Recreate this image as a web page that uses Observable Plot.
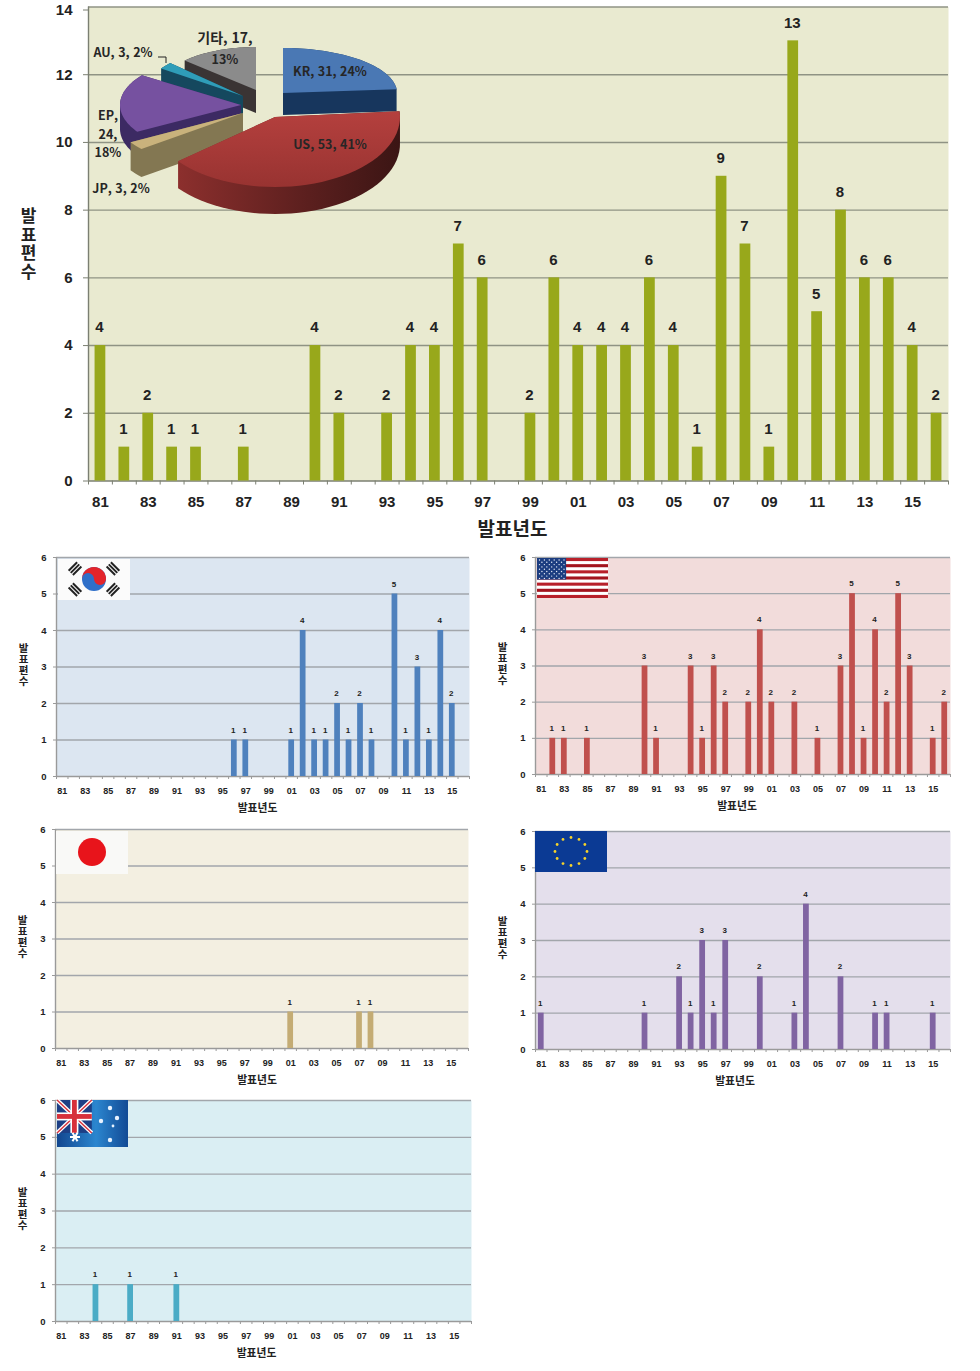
<!DOCTYPE html>
<html lang="ko">
<head>
<meta charset="utf-8">
<script src="https://cdn.jsdelivr.net/npm/d3@7"></script>
<script src="https://cdn.jsdelivr.net/npm/@observablehq/plot@0.6"></script>
<style>
html,body{margin:0;padding:0;background:#fff;overflow:hidden}
#page{position:relative;width:980px;height:1371px;overflow:hidden}
#page svg{position:absolute;max-width:none}
</style>
</head>
<body>
<div id="page"></div>
<script>
// ---- data ----
const years = d3.range(1981, 2017);
const tickYears = d3.range(1981, 2016, 2);
const totalValues = [4,1,2,1,1,0,1,0,0,4,2,0,2,4,4,7,6,0,2,6,4,4,4,6,4,1,9,7,1,13,5,8,6,6,4,2];
const krYears = [1996,1997,2001,2002,2003,2004,2005,2006,2007,2008,2010,2011,2012,2013,2014,2015];
const krValues = [1,1,1,4,1,1,2,1,2,1,5,1,3,1,4,2];
const usYears = [1982,1983,1985,1990,1991,1994,1995,1996,1997,1999,2000,2001,2003,2005,2007,2008,2009,2010,2011,2012,2013,2015,2016];
const usValues = [1,1,1,3,1,3,1,3,2,2,4,2,2,1,3,5,1,4,2,5,3,1,2];
const jpYears = [2001,2007,2008];
const jpValues = [1,1,1];
const epYears = [1981,1990,1993,1994,1995,1996,1997,2000,2003,2004,2007,2010,2011,2015];
const epValues = [1,1,2,1,3,1,3,2,1,4,2,1,1,1];
const auYears = [1984,1987,1991];
const auValues = [1,1,1];
const pieNames = ["KR","US","JP","EP","AU","기타"];
const pieCounts = [31,53,3,24,3,17];
const pieShares = [24,41,2,18,2,13];
const xTitle = "발표년도";
const yTitle = "발표편수";

// ---- layout & style ----
const FONT = '"Liberation Sans","Noto Sans CJK KR","Noto Sans",sans-serif';
const KFONT = '"Noto Sans CJK KR",sans-serif';
const boundaries = d3.range(1980.5, 2017, 1);
const twoDigit = d => String(d).slice(2);
const page = document.getElementById("page");

function chart(o) {
  const {box, rect, values, yearsOf, fill, bar, yMax, yStep, ty, extras = []} = o;
  const rows = yearsOf.map((y, i) => ({year: y, value: values[i]})).filter(d => d.value > 0);
  const halfBar = o.halfBar;
  const spacing = o.ySpacing;
  const yTicks = d3.range(0, yMax + 1, yStep);
  const yAxis = (ticks, dy) => Plot.axisY(ticks, {tickSize: o.yTick, tickPadding: ty.ypad, stroke: o.axis, label: null, dy,
    fontSize: ty.ysize, fontWeight: "bold", fill: "#222"});
  const svg = Plot.plot({
    width: box.w, height: box.h,
    marginLeft: rect.l - box.x, marginRight: box.x + box.w - rect.r,
    marginTop: rect.t - box.y, marginBottom: box.y + box.h - rect.b,
    style: {background: "transparent", fontFamily: FONT, color: "#222", overflow: "visible"},
    x: {domain: [1980.5, 2016.5], axis: null},
    y: {domain: [0, yMax], axis: null},
    marks: [
      Plot.frame({fill, stroke: "none"}),
      Plot.ruleY(d3.range(yStep, yMax + 1, yStep), {stroke: o.grid, strokeWidth: o.gridW}),
      Plot.axisX(boundaries, {tickSize: o.xTick, stroke: o.axis, tickFormat: () => "", label: null}),
      Plot.axisX(tickYears, {tickSize: 0, tickPadding: ty.pad, tickFormat: twoDigit, label: null,
        fontSize: ty.size, fontWeight: "bold", fill: "#222"}),
      yAxis(yTicks.slice(0, -1), 0),
      yAxis(yTicks.slice(-1), o.topTickDy),
      Plot.ruleY([0], {stroke: o.axis, strokeWidth: o.gridW}),
      Plot.ruleX([1980.5], {stroke: o.axis, strokeWidth: o.gridW}),
      Plot.rectY(rows, {x1: d => d.year - halfBar, x2: d => d.year + halfBar, y: "value", fill: bar}),
      Plot.text(rows, {x: "year", y: "value", text: d => String(d.value), dy: o.labelDy, dx: -1,
        fontSize: o.labelSize, fontWeight: "bold", fill: "#222"}),
      Plot.text([xTitle], {frameAnchor: "bottom", text: d => d, dy: o.xTitleDy, dx: o.xTitleDx,
        fontSize: o.titleSize, fontWeight: "bold", fill: "#222", fontFamily: KFONT}),
      Plot.text([yTitle], {frameAnchor: "left", text: d => d, textAnchor: "middle", dx: o.yTitleDx, dy: o.yTitleDy, lineAnchor: "middle",
        fontSize: o.yTitleSize, fontWeight: "bold", fill: "#222", fontFamily: KFONT,
        render(index, scales, values, dims, ctx, next) {
          const g = next(index, scales, values, dims, ctx);
          d3.select(g).selectAll("text")
            .style("writing-mode", "vertical-rl")
            .style("text-orientation", "upright")
            .style("letter-spacing", spacing + "px");
          return g;
        }}),
      ...extras
    ]
  });
  svg.style.left = box.x + "px";
  svg.style.top = box.y + "px";
  page.appendChild(svg);
}

// ---- inset 3-D pie, its slices sized from pieCounts ----
const sliceGeometry = [
  {c:[283,93],  rx:114, ry:45, d:22, top:"#4a78b4", side:"#17365d"},
  {c:[275,117], rx:125, ry:70, d:27, top:"url(#redTop)", side:"url(#redSide)"},
  {c:[243,113], rx:131, ry:57, d:28, top:"#c9b27c", side:"#837752"},
  {c:[241,105], rx:121, ry:52, d:24, top:"#7651a0", side:"#3c2a63"},
  {c:[243,96],  rx:100, ry:48, d:20, top:"#2f9db8", side:"#15485e"},
  {c:[256,90],  rx:98,  ry:43, d:23, top:"#8b8b8b", side:"#3a3434"}
];
const drawOrder = [5,4,3,2,0,1];
const pieLabels = [
  {i:0, lines:null, x:330, y:72},
  {i:1, lines:null, x:330, y:145},
  {i:2, lines:null, x:121, y:189},
  {i:3, lines:"stack3", x:108, y:116, step:18.5},
  {i:4, lines:null, x:123, y:53},
  {i:5, lines:"stack2", x:225, y:38, step:22}
];

function pieMark() {
  const g = d3.create("svg:g");
  const defs = g.append("defs");
  const lg = (id, stops, x2 = 1, y2 = 0) => {
    const e = defs.append("linearGradient").attr("id", id).attr("x1", 0).attr("y1", 0).attr("x2", x2).attr("y2", y2);
    stops.forEach(([o, c]) => e.append("stop").attr("offset", o).attr("stop-color", c));
  };
  lg("redTop", [[0, "#b5403e"], [1, "#983331"]], 0, 1);
  lg("redSide", [[0, "#8c2f2d"], [0.55, "#5e201f"], [1, "#3b1514"]]);
  const pie = d3.pie().sort(null).value(d => d)(pieCounts);
  const line = d3.line();
  drawOrder.forEach(i => {
    const s = sliceGeometry[i], a = pie[i];
    const pts = [s.c];
    for (let k = 0; k <= 40; k++) {
      const t = a.startAngle + (a.endAngle - a.startAngle) * k / 40;
      pts.push([s.c[0] + s.rx * Math.sin(t), s.c[1] - s.ry * Math.cos(t)]);
    }
    const hull = d3.polygonHull(pts.concat(pts.map(p => [p[0], p[1] + s.d])));
    g.append("path").attr("d", line(hull) + "Z").attr("fill", s.side);
    g.append("path").attr("d", line(pts) + "Z").attr("fill", s.top);
  });
  // AU leader line
  g.append("path").attr("d", d3.line()([[158,57],[166,57],[166,63]])).attr("fill", "none").attr("stroke", "#222").attr("stroke-width", 1);
  const text = (x, y, t, fs = 12.5) => g.append("text").attr("x", x).attr("y", y).attr("dy", "0.35em").attr("text-anchor", "middle")
    .attr("font-size", fs).attr("font-weight", "bold").attr("fill", "#262626").attr("font-family", KFONT).text(t);
  pieLabels.forEach(l => {
    const n = pieNames[l.i], c = pieCounts[l.i], p = pieShares[l.i] + "%";
    if (l.lines === "stack3") { text(l.x, l.y, n + ","); text(l.x, l.y + l.step, c + ","); text(l.x, l.y + 2 * l.step, p); }
    else if (l.lines === "stack2") { text(l.x, l.y, n + ", " + c + ",", 14); text(l.x, l.y + l.step, p); }
    else text(l.x, l.y, n + ", " + c + ", " + p);
  });
  return g.node();
}

// ---- flags (picture decoration in the corner of each panel) ----
function flagMark(draw, x, y, w, h) {
  return (index, scales, values, dims) => {
    const g = d3.create("svg:g").attr("transform", `translate(${dims.marginLeft + x},${dims.marginTop + y})`);
    draw(g, w, h);
    return g.node();
  };
}
const rect = (g, x, y, w, h, fill) => g.append("rect").attr("x", x).attr("y", y).attr("width", w).attr("height", h).attr("fill", fill);
const star = (g, x, y, r, fill) => g.append("circle").attr("cx", x).attr("cy", y).attr("r", r).attr("fill", fill);

function krFlag(g, w, h) {
  rect(g, 0, 0, w, h, "#fbfbfb");
  const cx = w * 0.5, cy = h * 0.49, r = 12;
  g.append("circle").attr("cx", cx).attr("cy", cy).attr("r", r).attr("fill", "#2f6fc9");
  g.append("path").attr("d", `M${cx-r},${cy}A${r},${r} 0 0 1 ${cx+r},${cy}A${r/2},${r/2} 0 0 1 ${cx},${cy}A${r/2},${r/2} 0 0 0 ${cx-r},${cy}Z`).attr("fill", "#e3242b");
  [[-19,-10.5,-1],[19,-10.5,1],[-19,10.5,1],[19,10.5,-1]].forEach(([dx,dy,sg]) => {
    const t = g.append("g").attr("transform", `translate(${cx+dx},${cy+dy}) rotate(${sg*45})`);
    [-3,0,3].forEach(o => rect(t, -6, o-1, 12, 2, "#222"));
  });
}
function usFlag(g, w, h) {
  rect(g, 0, 0, w, h, "#fff");
  for (let i = 0; i < 7; i++) rect(g, 0, i * h * 2 / 13, w, h / 13, i % 2 ? "#a3141e" : "#b8202a");
  rect(g, 0, 0, w * 0.41, h * 7 / 13, "#1c3d80");
  for (let r = 0; r < 9; r++) for (let c = 0; c < (r % 2 ? 5 : 6); c++)
    star(g, 2.5 + c * 4.9 + (r % 2 ? 2.4 : 0), 2 + r * 2.3, 0.7, "#e6ecf7");
}
function jpFlag(g, w, h) {
  rect(g, 0, 0, w, h, "#f9f9f7");
  g.append("circle").attr("cx", w * 0.5).attr("cy", h * 0.49).attr("r", 14).attr("fill", "#e8141b");
}
function euFlag(g, w, h) {
  rect(g, 0, 0, w, h, "#0b3a94");
  d3.range(12).forEach(i => {
    const t = i * Math.PI / 6;
    star(g, w / 2 + 16 * Math.sin(t), h / 2 + 14 * Math.cos(t), 1.4, "#f6d32a");
  });
}
function auFlag(g, w, h) {
  const grad = g.append("linearGradient").attr("id", "auBlue");
  [[0, "#12468f"], [0.55, "#2b86cf"], [1, "#124a95"]].forEach(([o, c]) => grad.append("stop").attr("offset", o).attr("stop-color", c));
  rect(g, 0, 0, w, h, "url(#auBlue)");
  const uw = w * 0.49, uh = h * 0.7;
  rect(g, 0, 0, uw, uh, "#1d3f85");
  [[0,0,uw,uh],[uw,0,0,uh]].forEach(([a,b,c,d]) => {
    g.append("line").attr("x1",a).attr("y1",b).attr("x2",c).attr("y2",d).attr("stroke","#fff").attr("stroke-width",4);
    g.append("line").attr("x1",a).attr("y1",b).attr("x2",c).attr("y2",d).attr("stroke","#d7303a").attr("stroke-width",1.4);
  });
  rect(g, uw/2-4, 0, 8, uh, "#fff"); rect(g, 0, uh/2-4, uw, 8, "#fff");
  rect(g, uw/2-2.4, 0, 4.8, uh, "#d7303a"); rect(g, 0, uh/2-2.4, uw, 4.8, "#d7303a");
  d3.range(3).forEach(i => {
    const t = i * Math.PI / 3;
    g.append("line").attr("x1", 18 - 5 * Math.cos(t)).attr("y1", 37 - 5 * Math.sin(t))
      .attr("x2", 18 + 5 * Math.cos(t)).attr("y2", 37 + 5 * Math.sin(t)).attr("stroke", "#fff").attr("stroke-width", 2);
  });
  [[53,8,2.2],[44,21,2.2],[60,18,2.2],[56,26,1.4],[53,40,2.2]].forEach(([x,y,r]) => star(g,x,y,r,"#e8f2ff"));
}

// ---- panels ----
chart({
  box:{x:0,y:0,w:980,h:545}, rect:{l:88,r:948,t:6.5,b:480.5},
  values: totalValues, yearsOf: years, fill:"#e9ead0", bar:"#98a81b",
  yMax:14, yStep:2, halfBar:0.225, grid:"#8f9384", gridW:1.4, axis:"#7b7f72", xTick:4, yTick:5,
  ty:{pad:15, size:15, ypad:11, ysize:15}, labelDy:-18, labelSize:15, xTitleDy:55, xTitleDx:-6, titleSize:19,
  yTitleDx:-60, yTitleDy:-5, yTitleSize:17, ySpacing:1.5, topTickDy:3,
  extras:[pieMark]
});
const small = {
  values:null, yMax:6, yStep:1, halfBar:0.25, grid:"#a2a6ab", gridW:1.4, axis:"#9a9a9a", xTick:3, yTick:3,
  ty:{pad:11, size:9, ypad:7, ysize:9.5}, labelDy:-10, labelSize:8, xTitleDy:35, titleSize:10.8,
  yTitleDx:-33, yTitleDy:-6, yTitleSize:10.5, ySpacing:0.5, topTickDy:0
};
chart({...small, box:{x:0,y:545,w:490,h:275}, rect:{l:56,r:469,t:557,b:776}, xTitleDx:-5.5,
  values:krValues, yearsOf:krYears, fill:"#dce6f1", bar:"#4f81bd", extras:[flagMark(krFlag,2,2,72,41)]});
chart({...small, box:{x:490,y:545,w:490,h:275}, rect:{l:535,r:950,t:557,b:774}, xTitleDx:-6,
  values:usValues, yearsOf:usYears, fill:"#f2dcdb", bar:"#c0504d", extras:[flagMark(usFlag,2,1,71,40)]});
chart({...small, box:{x:0,y:820,w:490,h:270}, rect:{l:55,r:468,t:829,b:1048}, xTitleDx:-5,
  values:jpValues, yearsOf:jpYears, fill:"#f3efe1", bar:"#c4ac74", extras:[flagMark(jpFlag,1,2,72,43)]});
chart({...small, box:{x:490,y:820,w:490,h:270}, rect:{l:535,r:950,t:831,b:1049}, xTitleDx:-8,
  values:epValues, yearsOf:epYears, fill:"#e4dfec", bar:"#8064a2", extras:[flagMark(euFlag,0,0,72,41)]});
chart({...small, box:{x:0,y:1090,w:490,h:281}, rect:{l:55,r:471,t:1100,b:1321}, xTitleDx:-7,
  values:auValues, yearsOf:auYears, fill:"#daeef3", bar:"#4bacc6", extras:[flagMark(auFlag,2,0,71,47)]});
</script>
</body>
</html>
